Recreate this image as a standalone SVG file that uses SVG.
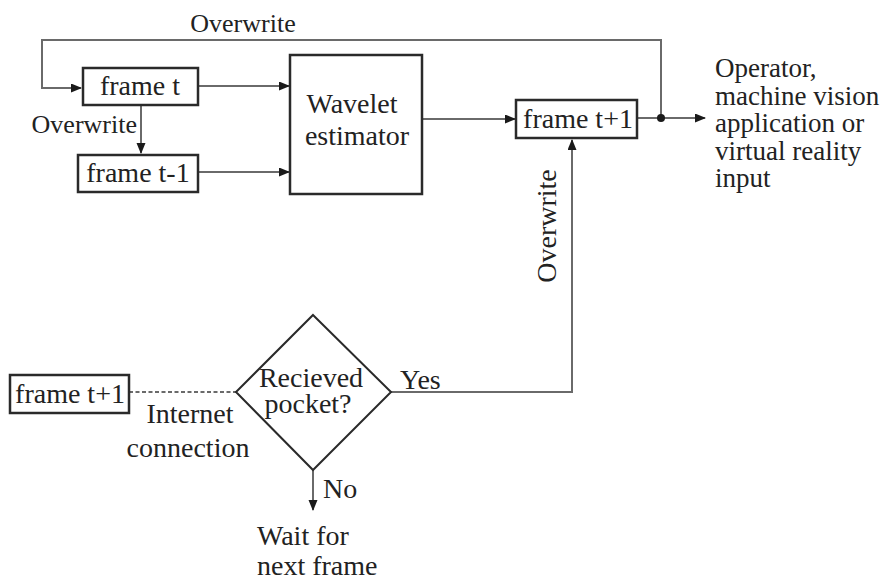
<svg xmlns="http://www.w3.org/2000/svg" width="892" height="584" viewBox="0 0 892 584">
<defs>
<style>
text{font-family:'Liberation Serif',serif;font-size:28px;fill:#222}
.s{font-size:26px}
.o{font-size:27px}
.box{fill:#fff;stroke:#2a2a2a;stroke-width:2.5}
.c{fill:none;stroke:#6a6a6a;stroke-width:2}
.d{fill:none;stroke:#2a2a2a;stroke-width:2}
</style>
<marker id="ah" markerUnits="userSpaceOnUse" markerWidth="11" markerHeight="10" refX="10" refY="4.5" orient="auto">
<path d="M0,0 L11,4.5 L0,9 z" fill="#1a1a1a"/>
</marker>
</defs>
<rect width="892" height="584" fill="#fff"/>
<g id="connectors">
<path class="c" d="M661,118 V40 H42 V88 H81" marker-end="url(#ah)"/>
<path class="c" d="M199,86 H289" marker-end="url(#ah)"/>
<path class="c" d="M199,172 H289" marker-end="url(#ah)"/>
<path class="c" d="M141,106 V153" marker-end="url(#ah)"/>
<path class="c" d="M422,119 H515" marker-end="url(#ah)"/>
<path class="c" d="M638,118 H705" marker-end="url(#ah)"/>
<circle cx="661" cy="118" r="4" fill="#1a1a1a"/>
<path class="c" d="M391,392 H572 V140" marker-end="url(#ah)"/>
<path class="c" d="M129,392 H236" stroke-dasharray="4 2.5"/>
<path class="c" d="M313,470 V510" marker-end="url(#ah)"/>
<text class="s" x="243" y="32" text-anchor="middle" font-family="Liberation Serif">Overwrite</text>
<text class="s" x="137" y="133" text-anchor="end" font-family="Liberation Serif">Overwrite</text>
<text x="556" y="226" text-anchor="middle" transform="rotate(-90 556 226)" font-family="Liberation Serif">Overwrite</text>
<text x="400" y="389" font-family="Liberation Serif">Yes</text>
<text x="323" y="498" font-family="Liberation Serif">No</text>
<text x="190" y="423" text-anchor="middle" font-family="Liberation Serif">Internet</text>
<text x="188" y="457" text-anchor="middle" font-family="Liberation Serif">connection</text>
</g>
<g id="frame_t">
<rect class="box" x="83" y="68" width="115" height="37"/>
<text x="140" y="95" text-anchor="middle" font-family="Liberation Serif">frame t</text>
</g>
<g id="frame_t_minus_1">
<rect class="box" x="78" y="155" width="120" height="37"/>
<text x="138" y="182" text-anchor="middle" font-family="Liberation Serif">frame t-1</text>
</g>
<g id="wavelet_estimator">
<rect class="box" x="290" y="55" width="132" height="139"/>
<text x="352" y="113" text-anchor="middle" font-family="Liberation Serif">Wavelet</text>
<text x="357" y="145" text-anchor="middle" font-family="Liberation Serif">estimator</text>
</g>
<g id="frame_t_plus_1">
<rect class="box" x="516" y="100" width="121" height="38"/>
<text x="578" y="128" text-anchor="middle" font-family="Liberation Serif">frame t+1</text>
</g>
<g id="output">
<text class="o" x="715" y="77" font-family="Liberation Serif">Operator,</text>
<text class="o" x="715" y="105" font-family="Liberation Serif">machine vision</text>
<text class="o" x="715" y="132" font-family="Liberation Serif">application or</text>
<text class="o" x="715" y="160" font-family="Liberation Serif">virtual reality</text>
<text class="o" x="715" y="187" font-family="Liberation Serif">input</text>
</g>
<g id="frame_t_plus_1_remote">
<rect class="box" x="10" y="375" width="119" height="38"/>
<text x="70" y="403" text-anchor="middle" font-family="Liberation Serif">frame t+1</text>
</g>
<g id="decision">
<path class="d" d="M313,315 L391,392 L313,470 L236,392 Z" fill="#fff"/>
<text x="311" y="387" text-anchor="middle" font-family="Liberation Serif">Recieved</text>
<text x="308" y="413" text-anchor="middle" font-family="Liberation Serif">pocket?</text>
</g>
<g id="wait">
<text x="257" y="545" font-family="Liberation Serif">Wait for</text>
<text x="257" y="575" font-family="Liberation Serif">next frame</text>
</g>
</svg>
